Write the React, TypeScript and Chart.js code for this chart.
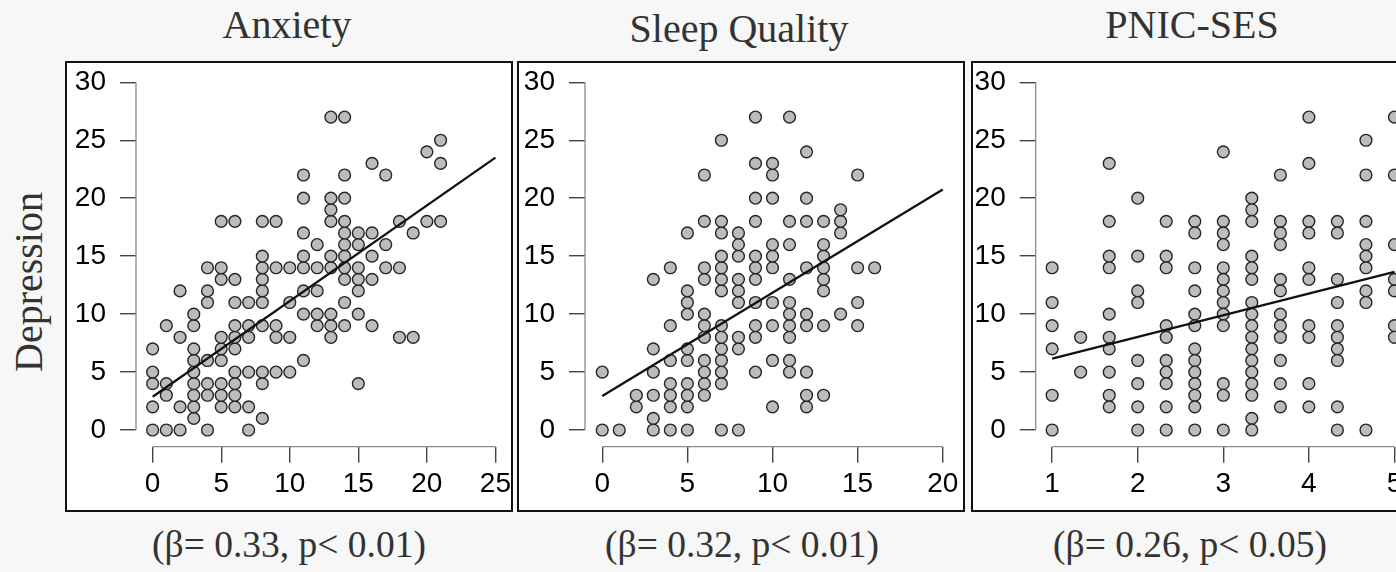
import React, { useEffect, useRef } from 'react';
import { Chart, registerables } from 'chart.js';

Chart.register(...registerables);

// ---------- DATA ----------
const titles = ['Anxiety', 'Sleep Quality', 'PNIC-SES'];
const stats = ['(β= 0.33, p< 0.01)', '(β= 0.32, p< 0.01)', '(β= 0.26, p< 0.05)'];
const yAxisTitle = 'Depression';

const depressionTicks = [0, 5, 10, 15, 20, 25, 30];
const anxietyTicks = [0, 5, 10, 15, 20, 25];
const sleepTicks = [0, 5, 10, 15, 20];
const pnicTicks = [1, 2, 3, 4, 5];

// [predictor, depression]
const anxietyPoints: number[][] = [
  [0, 0], [1, 0], [2, 0], [4, 0], [7, 0],
  [3, 1], [8, 1],
  [0, 2], [2, 2], [3, 2], [5, 2], [6, 2], [7, 2],
  [1, 3], [3, 3], [4, 3], [5, 3], [6, 3],
  [0, 4], [1, 4], [3, 4], [4, 4], [5, 4], [6, 4], [8, 4], [15, 4],
  [0, 5], [3, 5], [6, 5], [7, 5], [8, 5], [9, 5], [10, 5],
  [3, 6], [4, 6], [5, 6], [11, 6],
  [0, 7], [3, 7], [5, 7], [6, 7],
  [2, 8], [5, 8], [6, 8], [7, 8], [9, 8], [10, 8], [13, 8], [18, 8], [19, 8],
  [1, 9], [3, 9], [6, 9], [7, 9], [8, 9], [9, 9], [12, 9], [13, 9], [14, 9], [16, 9],
  [3, 10], [11, 10], [12, 10], [13, 10], [15, 10],
  [4, 11], [6, 11], [7, 11], [8, 11], [10, 11], [14, 11],
  [2, 12], [4, 12], [8, 12], [11, 12], [12, 12], [15, 12],
  [5, 13], [6, 13], [8, 13], [14, 13], [15, 13], [16, 13],
  [4, 14], [5, 14], [8, 14], [9, 14], [10, 14], [11, 14], [12, 14], [13, 14], [14, 14], [15, 14], [17, 14], [18, 14],
  [8, 15], [11, 15], [13, 15], [14, 15], [16, 15],
  [12, 16], [14, 16], [15, 16], [17, 16],
  [11, 17], [14, 17], [15, 17], [16, 17], [19, 17],
  [5, 18], [6, 18], [8, 18], [9, 18], [13, 18], [14, 18], [18, 18], [20, 18], [21, 18],
  [13, 19],
  [11, 20], [13, 20], [14, 20],
  [11, 22], [14, 22], [17, 22],
  [16, 23], [21, 23],
  [20, 24], [21, 25],
  [13, 27], [14, 27],
];

const sleepPoints: number[][] = [
  [0, 0], [1, 0], [3, 0], [4, 0], [5, 0], [7, 0], [8, 0],
  [0, 5],
  [2, 2], [2, 3],
  [3, 1], [3, 3], [3, 5], [3, 7], [3, 13],
  [4, 2], [4, 3], [4, 4], [4, 6], [4, 9], [4, 14],
  [5, 2], [5, 3], [5, 4], [5, 6], [5, 7], [5, 10], [5, 11], [5, 12], [5, 17],
  [6, 3], [6, 4], [6, 5], [6, 6], [6, 8], [6, 9], [6, 10], [6, 13], [6, 14], [6, 18], [6, 22],
  [7, 4], [7, 5], [7, 6], [7, 7], [7, 8], [7, 9], [7, 12], [7, 13], [7, 14], [7, 15], [7, 17], [7, 18], [7, 25],
  [8, 7], [8, 8], [8, 11], [8, 12], [8, 13], [8, 15], [8, 16], [8, 17],
  [9, 5], [9, 8], [9, 9], [9, 11], [9, 13], [9, 14], [9, 15], [9, 18], [9, 20], [9, 23], [9, 27],
  [10, 2], [10, 6], [10, 9], [10, 11], [10, 14], [10, 15], [10, 16], [10, 20], [10, 22], [10, 23],
  [11, 5], [11, 6], [11, 8], [11, 9], [11, 10], [11, 11], [11, 13], [11, 16], [11, 18], [11, 27],
  [12, 2], [12, 3], [12, 5], [12, 9], [12, 10], [12, 14], [12, 18], [12, 20], [12, 24],
  [13, 3], [13, 9], [13, 12], [13, 13], [13, 14], [13, 15], [13, 16], [13, 18],
  [14, 10], [14, 17], [14, 18], [14, 19],
  [15, 9], [15, 11], [15, 14], [15, 22],
  [16, 14],
];

const pnicPoints: number[][] = [
  [1, 14], [1, 11], [1, 9], [1, 7], [1, 3], [1, 0],
  [1.333, 8], [1.333, 5],
  [1.667, 23], [1.667, 18], [1.667, 15], [1.667, 14], [1.667, 10], [1.667, 8], [1.667, 7], [1.667, 5], [1.667, 3], [1.667, 2],
  [2, 20], [2, 15], [2, 12], [2, 11], [2, 6], [2, 4], [2, 2], [2, 0],
  [2.333, 18], [2.333, 15], [2.333, 14], [2.333, 9], [2.333, 8], [2.333, 6], [2.333, 5], [2.333, 4], [2.333, 2], [2.333, 0],
  [2.667, 18], [2.667, 17], [2.667, 14], [2.667, 12], [2.667, 10], [2.667, 9], [2.667, 7], [2.667, 6], [2.667, 5], [2.667, 4], [2.667, 3], [2.667, 2], [2.667, 0],
  [3, 24], [3, 18], [3, 17], [3, 16], [3, 14], [3, 13], [3, 12], [3, 11], [3, 10], [3, 9], [3, 4], [3, 3], [3, 0],
  [3.333, 20], [3.333, 19], [3.333, 18], [3.333, 15], [3.333, 14], [3.333, 13], [3.333, 11], [3.333, 10], [3.333, 9], [3.333, 8], [3.333, 7], [3.333, 6], [3.333, 5], [3.333, 4], [3.333, 3], [3.333, 1], [3.333, 0],
  [3.667, 22], [3.667, 18], [3.667, 17], [3.667, 16], [3.667, 13], [3.667, 12], [3.667, 10], [3.667, 9], [3.667, 8], [3.667, 6], [3.667, 4], [3.667, 2],
  [4, 27], [4, 23], [4, 18], [4, 17], [4, 14], [4, 13], [4, 9], [4, 8], [4, 4], [4, 2],
  [4.333, 18], [4.333, 17], [4.333, 13], [4.333, 11], [4.333, 9], [4.333, 8], [4.333, 7], [4.333, 6], [4.333, 2], [4.333, 0],
  [4.667, 25], [4.667, 22], [4.667, 18], [4.667, 16], [4.667, 15], [4.667, 14], [4.667, 12], [4.667, 11], [4.667, 0],
  [5, 27], [5, 22], [5, 16], [5, 13], [5, 12], [5, 9], [5, 8],
];

// fitted regression line end points
const anxietyFit: number[][] = [[0, 2.87], [25, 23.5]];
const sleepFit: number[][] = [[0, 2.93], [20, 20.75]];
const pnicFit: number[][] = [[1, 6.15], [5, 13.65]];

// ---------- LAYOUT ----------
type PanelCfg = {
  left: number; top: number; width: number; height: number;
  yAxisW: number; xAxisH: number; padTop: number; padRight: number;
  xMin: number; xMax: number; yMin: number; yMax: number;
};

const panelLayouts: PanelCfg[] = [
  { left: 65, top: 61, width: 448, height: 451, yAxisW: 69, xAxisH: 63.3, padTop: 7, padRight: 6, xMin: -1.214, xMax: 25.603, yMin: -1.44, yMax: 31.034 },
  { left: 517, top: 61, width: 448, height: 451, yAxisW: 66, xAxisH: 63.3, padTop: 7, padRight: 6, xMin: -1.013, xMax: 20.761, yMin: -1.44, yMax: 31.034 },
  { left: 971, top: 61, width: 440, height: 451, yAxisW: 62.7, xAxisH: 63.3, padTop: 7, padRight: 4, xMin: 0.808, xMax: 5.0845, yMin: -1.44, yMax: 31.034 },
];

const TICK_FONT = { family: "'Liberation Sans', Arial, sans-serif", size: 28 };
const SERIF = "'Liberation Serif', 'Times New Roman', serif";

function Panel(props: { cfg: PanelCfg; points: number[][]; fit: number[][]; xTicks: number[] }) {
  const { cfg, points, fit, xTicks } = props;
  const ref = useRef<HTMLCanvasElement | null>(null);
  const cw = cfg.width - 4;
  const ch = cfg.height - 4;

  useEffect(() => {
    if (!ref.current) return;
    const axisLines = {
      id: 'rAxes',
      beforeDatasetsDraw(chart: any) {
        const { ctx, chartArea, scales } = chart;
        const xs = scales.x;
        const ys = scales.y;
        ctx.save();
        ctx.strokeStyle = '#8a8a8a';
        ctx.lineWidth = 1.3;
        ctx.beginPath();
        ctx.moveTo(chartArea.left, ys.getPixelForValue(depressionTicks[0]));
        ctx.lineTo(chartArea.left, ys.getPixelForValue(depressionTicks[depressionTicks.length - 1]));
        ctx.moveTo(xs.getPixelForValue(xTicks[0]), chartArea.bottom);
        ctx.lineTo(xs.getPixelForValue(xTicks[xTicks.length - 1]), chartArea.bottom);
        ctx.stroke();
        ctx.restore();
      },
    };
    const chart = new Chart(ref.current, {
      type: 'scatter',
      data: {
        datasets: [
          {
            data: fit.map(([x, y]) => ({ x, y })),
            showLine: true,
            borderColor: '#111',
            borderWidth: 2.3,
            pointRadius: 0,
            fill: false,
          } as any,
          {
            data: points.map(([x, y]) => ({ x, y })),
            backgroundColor: '#bcbcbc',
            borderColor: '#262626',
            borderWidth: 1.4,
            pointRadius: 5.9,
          },
        ],
      },
      options: {
        animation: false,
        responsive: false,
        devicePixelRatio: 1,
        events: [],
        clip: false as any,
        layout: { padding: { top: cfg.padTop, right: cfg.padRight, left: 0, bottom: 0 } },
        plugins: { legend: { display: false }, tooltip: { enabled: false } },
        scales: {
          x: {
            type: 'linear',
            position: 'bottom',
            min: cfg.xMin,
            max: cfg.xMax,
            afterBuildTicks: (s: any) => { s.ticks = xTicks.map((v) => ({ value: v })); },
            afterFit: (s: any) => { s.height = cfg.xAxisH; s.paddingLeft = 0; s.paddingRight = 0; },
            grid: { drawOnChartArea: false, drawTicks: true, tickLength: 16, color: '#444', lineWidth: 1.4 },
            border: { display: false },
            ticks: { padding: 5, font: TICK_FONT, color: '#000', maxRotation: 0, autoSkip: false },
          },
          y: {
            type: 'linear',
            position: 'left',
            min: cfg.yMin,
            max: cfg.yMax,
            afterBuildTicks: (s: any) => { s.ticks = depressionTicks.map((v) => ({ value: v })); },
            afterFit: (s: any) => { s.width = cfg.yAxisW; s.paddingTop = 0; s.paddingBottom = 0; },
            grid: { drawOnChartArea: false, drawTicks: true, tickLength: 16, color: '#444', lineWidth: 1.4 },
            border: { display: false },
            ticks: { padding: 14, font: TICK_FONT, color: '#000', autoSkip: false },
          },
        },
      } as any,
      plugins: [axisLines],
    });
    return () => chart.destroy();
  }, []);

  return (
    <div
      style={{
        position: 'absolute', left: cfg.left, top: cfg.top, width: cfg.width, height: cfg.height,
        boxSizing: 'border-box', border: '2px solid #111', background: '#fff',
      }}
    >
      <canvas ref={ref} width={cw} height={ch} style={{ position: 'absolute', left: 0, top: 0, width: cw, height: ch }} />
    </div>
  );
}

const titleCenters = [287, 739, 1192];
const titleTops = [4.5, 9, 5];
const statCenters = [289, 742, 1190];

export default function App() {
  const pointSets = [anxietyPoints, sleepPoints, pnicPoints];
  const fits = [anxietyFit, sleepFit, pnicFit];
  const xTickSets = [anxietyTicks, sleepTicks, pnicTicks];
  const textStyle: React.CSSProperties = {
    position: 'absolute', fontFamily: SERIF, color: '#333', whiteSpace: 'nowrap',
  };
  return (
    <div style={{ position: 'fixed', left: 0, top: 0, width: 1396, height: 572, overflow: 'hidden', background: '#f7f7f7' }}>
      {panelLayouts.map((cfg, i) => (
        <Panel key={i} cfg={cfg} points={pointSets[i]} fit={fits[i]} xTicks={xTickSets[i]} />
      ))}
      {titles.map((t, i) => (
        <div key={'t' + i} style={{ ...textStyle, left: titleCenters[i], top: titleTops[i], fontSize: 40, lineHeight: '40px', transform: 'translateX(-50%)' }}>{t}</div>
      ))}
      {stats.map((t, i) => (
        <div key={'s' + i} style={{ ...textStyle, left: statCenters[i], top: 526, fontSize: 37.5, lineHeight: '38px', transform: 'translateX(-50%)' }}>{t}</div>
      ))}
      <div style={{ ...textStyle, left: 29, top: 281.5, fontSize: 40, lineHeight: '40px', transform: 'translate(-50%, -50%) rotate(-90deg)' }}>{yAxisTitle}</div>
    </div>
  );
}
